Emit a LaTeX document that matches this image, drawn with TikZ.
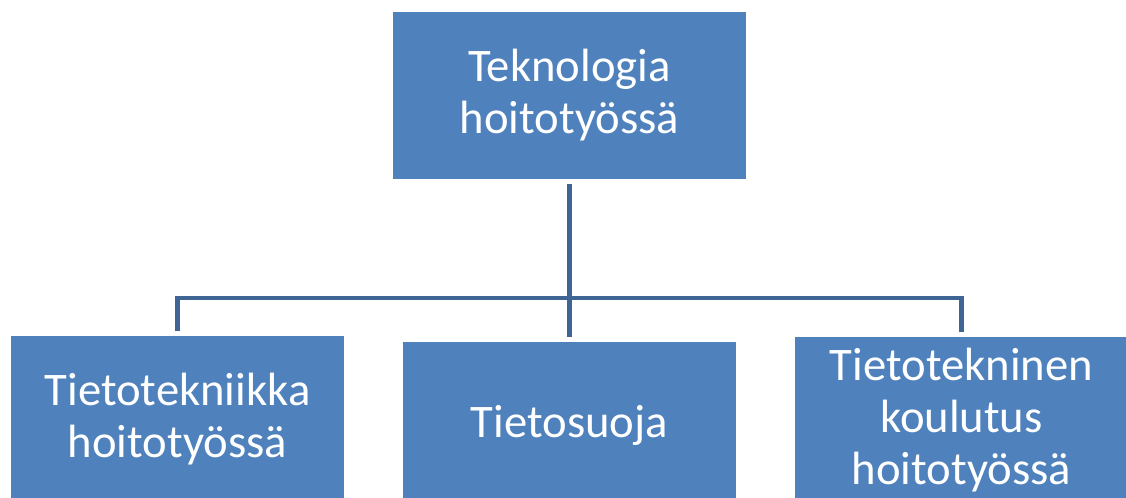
\documentclass[tikz,border=0pt]{standalone}
\usepackage{fontspec}
\setmainfont{Carlito}
\usepackage{tikz}
\usetikzlibrary{positioning}

\definecolor{boxblue}{HTML}{4F81BD}
\definecolor{linkblue}{HTML}{3E6594}

\begin{document}
\begin{tikzpicture}[x=0.75pt, y=-0.75pt]
			\tikzstyle{Box}		= [rectangle, fill=boxblue, text=white, align=center, inner sep=0pt, minimum height=125.25pt, font=\fontsize{35}{39}\selectfont]
			\tikzstyle{Top}		= [Box, minimum width=264.75pt]
			\tikzstyle{Leaf}	= [Box, minimum width=249.75pt]
			\tikzstyle{Link}	= [line width=3.6pt, linkblue, shorten <=3.5pt, shorten >=3.5pt]
			
			\useasboundingbox (0,0) rectangle (1126,498);
			\clip (0,0) rectangle (1126,498);
			
			\node (top) at (569.5, 95.5) [Top] {Teknologia\\hoitotyössä};
			\foreach \n/\x/\y/\t in {b1/177.5/419.5/{Tietotekniikka\\hoitotyössä}, b2/569.5/425.5/{Tietosuoja}, b3/961.5/420.5/{Tietotekninen\\koulutus\\hoitotyössä}}
				\node (\n) at (\x, \y) [Leaf] {\t};
			
			\coordinate (j) at (569.5, 298);
			\draw [Link] (top.south) -- (b2.north);
			\draw [Link] (b1.north) |- (j) -| (b3.north);
		\end{tikzpicture}
\end{document}
